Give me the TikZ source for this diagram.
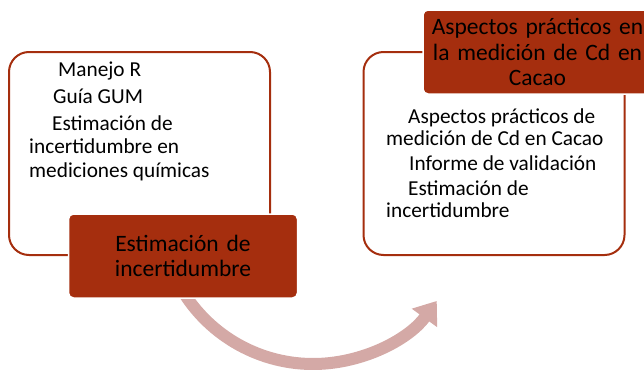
\documentclass[tikz,border=0pt]{standalone}
\usepackage{fontspec}
\setmainfont{Carlito}
\usepackage{tikz}
\usetikzlibrary{calc,arrows.meta}
\definecolor{boxred}{RGB}{165,46,14}
\definecolor{arcpink}{RGB}{212,169,166}

\begin{document}
\begin{tikzpicture}[x=1pt,y=-1pt,
	listbox/.style={draw=boxred, line width=2pt, rounded corners=20pt, minimum width=261pt, minimum height=203pt, inner sep=0pt},
	headbox/.style={fill=boxred, draw=white, line width=1.5pt, rounded corners=5pt, text width=229pt, minimum height=84pt, inner sep=0pt, align=center, font=\fontsize{23.5}{25.5}\selectfont},
	itemtext/.style={anchor=base west, inner sep=0pt, font=\fontsize{21.3}{24}\selectfont},
	bigarrow/.style={draw=arcpink, line width=12pt, -{Triangle[length=21pt,width=30pt]}}]
	
	%the frame
	\clip (0,0) rectangle (644,372);
	
	% the arrow, under the boxes
	\coordinate (arcstart) at ($(313,211)+(147:153)$);
	\draw[bigarrow] (arcstart) arc[start angle=147, end angle=36, radius=153];
	
	% the two lists
	\node[listbox] (lbox) at (139.5,153.5) {};
	\node[listbox] (rbox) at (494,153.5) {};
	
	\foreach \x/\y/\txt [count=\i] in {58/76.7/Manejo R, 53/103/Guía GUM, 52/130/Estimación de,
		29/153/incertidumbre en, 29/177/mediciones químicas}
	\node[itemtext] (litem\i) at (\x,\y) {\txt};
	
	\foreach \x/\y/\txt [count=\i] in {408/123/Aspectos prácticos de, 386/145.5/medición de Cd en Cacao,
		409/170/Informe de validación, 408/195/Estimación de, 386/217/incertidumbre}
	\node[itemtext] (ritem\i) at (\x,\y) {\txt};
	
	% the titles
	\node[headbox] (lhead) at (183,256) {Estimación de\\incertidumbre};
	\node[headbox] (rhead) at (537.5,52) {Aspectos prácticos en\\la medición de Cd en\\Cacao};
\end{tikzpicture}
\end{document}
